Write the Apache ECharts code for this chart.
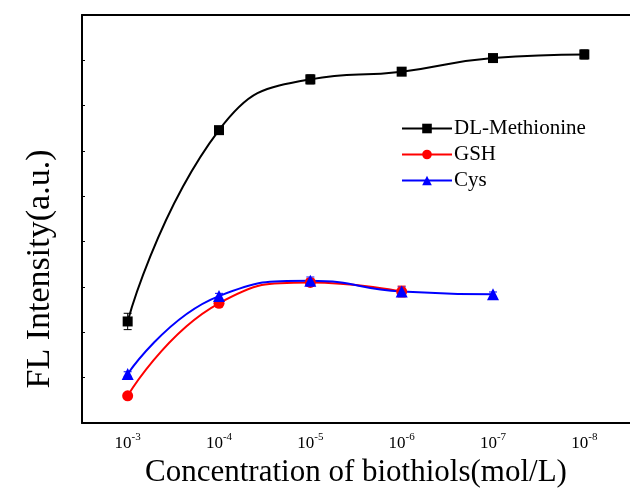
<!DOCTYPE html>
<html>
<head>
<meta charset="utf-8">
<script src="https://cdn.jsdelivr.net/npm/echarts@6/dist/echarts.min.js"></script>
<style>
  html, body { margin: 0; padding: 0; background: #fff; }
  #chart { width: 630px; height: 496px; }
</style>
</head>
<body>
<div id="chart"></div>
<script>
// concentrations (x categories), written as exponents of 10
var categories = ['-3', '-4', '-5', '-6', '-7', '-8'];

// FL intensity, arbitrary units
var metValues = [2.24, 6.46, 7.58, 7.75, 8.05, 8.13];
var metErrors = [0.18, 0.06, 0.1, 0.06, 0.08, 0.1];
var gshValues = [0.6, 2.64, 3.1, 2.9];
var gshErrors = [0.05, 0.05, 0.08, 0.12];
var cysValues = [1.08, 2.8, 3.14, 2.9, 2.84];
var cysErrors = [0.05, 0.06, 0.08, 0.1, 0.05];

var serif = '"Liberation Serif", "Times New Roman", serif';

// 误差棒
function errorData(values, errors) {
    return values.map(function (v, i) {
        return [i, v - errors[i], v + errors[i]];
    });
}

function errorSeries(values, errors, color) {
    return {
        type: 'custom',
        silent: true,
        z: 1,
        data: errorData(values, errors),
        renderItem: function (params, api) {
            var lo = api.coord([api.value(0), api.value(1)]);
            var hi = api.coord([api.value(0), api.value(2)]);
            var w = 4;
            var style = { stroke: color, lineWidth: 1 };
            return {
                type: 'group',
                children: [
                    { type: 'line', shape: { x1: lo[0], y1: lo[1], x2: hi[0], y2: hi[1] }, style: style },
                    { type: 'line', shape: { x1: lo[0] - w, y1: lo[1], x2: lo[0] + w, y2: lo[1] }, style: style },
                    { type: 'line', shape: { x1: hi[0] - w, y1: hi[1], x2: hi[0] + w, y2: hi[1] }, style: style }
                ]
            };
        }
    };
}

var myChart = echarts.init(document.getElementById('chart'));

var option = {
    animation: false,
    textStyle: { fontFamily: serif },
    grid: { left: 82, top: 15, width: 550, height: 408 },
    // y 轴标题（比绘图区中心略低）
    graphic: [{
        type: 'text',
        x: 40,
        y: 269,
        rotation: Math.PI / 2,
        style: {
            text: 'FL Intensity(a.u.)',
            fontFamily: serif,
            fontSize: 34,
            fill: '#000',
            align: 'center',
            verticalAlign: 'middle'
        }
    }],
    legend: {
        left: 396,
        top: 113,
        orient: 'vertical',
        itemWidth: 50,
        itemHeight: 12,
        itemGap: 5,
        textStyle: { fontFamily: serif, fontSize: 21, color: '#000', padding: [0, 0, 0, -3] },
        data: ['DL-Methionine', 'GSH', 'Cys']
    },
    xAxis: [
        {
            type: 'category',
            data: categories,
            position: 'bottom',
            name: 'Concentration of biothiols(mol/L)',
            nameLocation: 'middle',
            nameGap: 31,
            nameTextStyle: { fontFamily: serif, fontSize: 31, color: '#000' },
            axisLine: { lineStyle: { color: '#000', width: 2 } },
            axisTick: { alignWithLabel: true, inside: true, length: 8, lineStyle: { color: '#000', width: 1.5 } },
            axisLabel: {
                margin: 9,
                formatter: function (v) { return '{b|10}{s|' + v + '}'; },
                rich: {
                    b: { fontFamily: serif, fontSize: 17, color: '#000', verticalAlign: 'bottom' },
                    s: { fontFamily: serif, fontSize: 11, color: '#000', verticalAlign: 'top', padding: [0, 0, 9, 0] }
                }
            }
        },
        {
            type: 'category',
            data: categories,
            position: 'bottom',
            axisLine: { show: false },
            axisTick: { inside: true, length: 4, lineStyle: { color: '#000', width: 1.5 } },
            axisLabel: { show: false }
        },
        {
            type: 'category',
            data: categories,
            position: 'top',
            axisLine: { lineStyle: { color: '#000', width: 2 } },
            axisTick: { alignWithLabel: true, inside: true, length: 3, lineStyle: { color: '#000', width: 1 } },
            axisLabel: { show: false }
        }
    ],
    yAxis: {
        type: 'value',
        min: 0,
        max: 9,
        interval: 1,
        axisLine: { show: true, lineStyle: { color: '#000', width: 2 } },
        axisTick: { show: true, inside: true, length: 3, lineStyle: { color: '#000', width: 1 } },
        axisLabel: { show: false },
        splitLine: { show: false }
    },
    series: [
        errorSeries(metValues, metErrors, '#000'),
        errorSeries(gshValues, gshErrors, '#ff0000'),
        errorSeries(cysValues, cysErrors, '#0000ff'),
        {
            name: 'DL-Methionine',
            type: 'line',
            data: metValues,
            smooth: 0.5,
            symbol: 'rect',
            symbolSize: 10,
            itemStyle: { color: '#000' },
            lineStyle: { color: '#000', width: 2 }
        },
        {
            name: 'GSH',
            type: 'line',
            data: gshValues,
            smooth: 0.5,
            symbol: 'circle',
            symbolSize: 11,
            itemStyle: { color: '#ff0000' },
            lineStyle: { color: '#ff0000', width: 2 }
        },
        {
            name: 'Cys',
            type: 'line',
            data: cysValues,
            smooth: 0.5,
            symbol: 'triangle',
            symbolSize: 12,
            itemStyle: { color: '#0000ff' },
            lineStyle: { color: '#0000ff', width: 2 }
        }
    ]
};

myChart.setOption(option);
</script>
</body>
</html>
